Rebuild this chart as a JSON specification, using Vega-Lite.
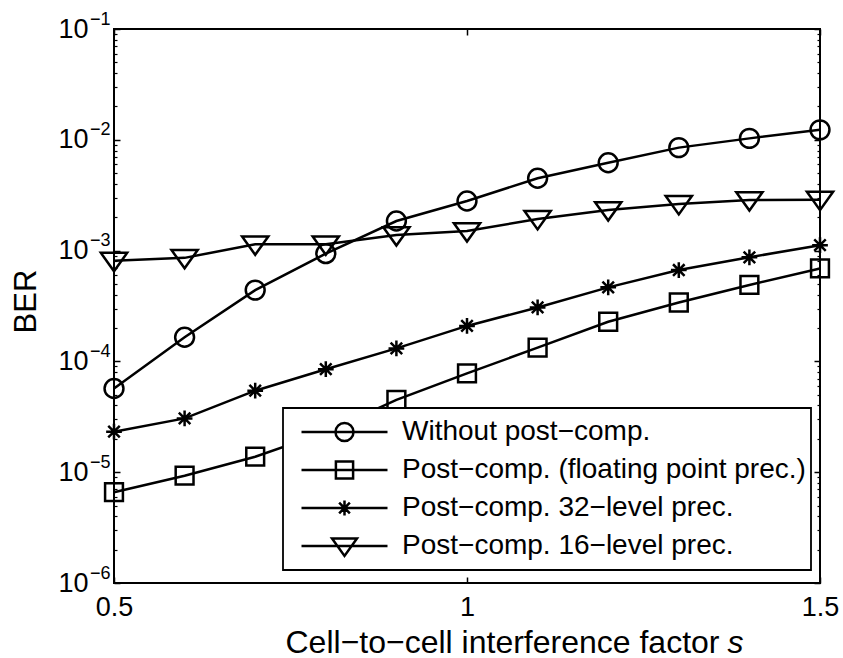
{
  "$schema": "https://vega.github.io/schema/vega-lite/v6.json",
  "width": 706,
  "height": 554,
  "autosize": "none",
  "padding": {"left": 114, "top": 29, "right": 23, "bottom": 75},
  "background": "white",
  "config": {
    "view": {"stroke": "black", "strokeWidth": 2},
    "font": "Liberation Sans",
    "legend": {"strokeWidth": 1.8},
    "axis": {"grid": false, "domain": false, "labelColor": "black", "titleColor": "black", "tickColor": "black", "labelFont": "Liberation Sans", "titleFont": "Liberation Sans", "titleFontWeight": "normal"}
  },
  "data": {
    "values": [
      {"s": 0.5, "ber": 5.7e-5, "series": "Without post−comp."},
      {"s": 0.6, "ber": 1.65e-4, "series": "Without post−comp."},
      {"s": 0.7, "ber": 4.4e-4, "series": "Without post−comp."},
      {"s": 0.8, "ber": 9.4e-4, "series": "Without post−comp."},
      {"s": 0.9, "ber": 1.85e-3, "series": "Without post−comp."},
      {"s": 1.0, "ber": 2.8e-3, "series": "Without post−comp."},
      {"s": 1.1, "ber": 4.5e-3, "series": "Without post−comp."},
      {"s": 1.2, "ber": 6.2e-3, "series": "Without post−comp."},
      {"s": 1.3, "ber": 8.5e-3, "series": "Without post−comp."},
      {"s": 1.4, "ber": 1.03e-2, "series": "Without post−comp."},
      {"s": 1.5, "ber": 1.23e-2, "series": "Without post−comp."},
      {"s": 0.5, "ber": 6.6e-6, "series": "Post−comp. (floating point prec.)"},
      {"s": 0.6, "ber": 9.3e-6, "series": "Post−comp. (floating point prec.)"},
      {"s": 0.7, "ber": 1.38e-5, "series": "Post−comp. (floating point prec.)"},
      {"s": 0.8, "ber": 2.3e-5, "series": "Post−comp. (floating point prec.)"},
      {"s": 0.9, "ber": 4.5e-5, "series": "Post−comp. (floating point prec.)"},
      {"s": 1.0, "ber": 7.8e-5, "series": "Post−comp. (floating point prec.)"},
      {"s": 1.1, "ber": 1.33e-4, "series": "Post−comp. (floating point prec.)"},
      {"s": 1.2, "ber": 2.28e-4, "series": "Post−comp. (floating point prec.)"},
      {"s": 1.3, "ber": 3.4e-4, "series": "Post−comp. (floating point prec.)"},
      {"s": 1.4, "ber": 4.9e-4, "series": "Post−comp. (floating point prec.)"},
      {"s": 1.5, "ber": 6.9e-4, "series": "Post−comp. (floating point prec.)"},
      {"s": 0.5, "ber": 2.32e-5, "series": "Post−comp. 32−level prec."},
      {"s": 0.6, "ber": 3.06e-5, "series": "Post−comp. 32−level prec."},
      {"s": 0.7, "ber": 5.44e-5, "series": "Post−comp. 32−level prec."},
      {"s": 0.8, "ber": 8.5e-5, "series": "Post−comp. 32−level prec."},
      {"s": 0.9, "ber": 1.31e-4, "series": "Post−comp. 32−level prec."},
      {"s": 1.0, "ber": 2.09e-4, "series": "Post−comp. 32−level prec."},
      {"s": 1.1, "ber": 3.07e-4, "series": "Post−comp. 32−level prec."},
      {"s": 1.2, "ber": 4.66e-4, "series": "Post−comp. 32−level prec."},
      {"s": 1.3, "ber": 6.68e-4, "series": "Post−comp. 32−level prec."},
      {"s": 1.4, "ber": 8.7e-4, "series": "Post−comp. 32−level prec."},
      {"s": 1.5, "ber": 1.12e-3, "series": "Post−comp. 32−level prec."},
      {"s": 0.5, "ber": 8.1e-4, "series": "Post−comp. 16−level prec."},
      {"s": 0.6, "ber": 8.6e-4, "series": "Post−comp. 16−level prec."},
      {"s": 0.7, "ber": 1.14e-3, "series": "Post−comp. 16−level prec."},
      {"s": 0.8, "ber": 1.14e-3, "series": "Post−comp. 16−level prec."},
      {"s": 0.9, "ber": 1.38e-3, "series": "Post−comp. 16−level prec."},
      {"s": 1.0, "ber": 1.5e-3, "series": "Post−comp. 16−level prec."},
      {"s": 1.1, "ber": 1.93e-3, "series": "Post−comp. 16−level prec."},
      {"s": 1.2, "ber": 2.32e-3, "series": "Post−comp. 16−level prec."},
      {"s": 1.3, "ber": 2.64e-3, "series": "Post−comp. 16−level prec."},
      {"s": 1.4, "ber": 2.86e-3, "series": "Post−comp. 16−level prec."},
      {"s": 1.5, "ber": 2.88e-3, "series": "Post−comp. 16−level prec."}
    ]
  },
  "resolve": {"scale": {"shape": "independent"}, "axis": {"x": "independent", "y": "independent"}},
  "layer": [
    {
      "mark": {"type": "line", "color": "black", "strokeWidth": 2.5},
      "encoding": {
        "x": {"field": "s", "type": "quantitative", "scale": {"domain": [0.5, 1.5], "nice": false, "zero": false},
          "axis": {"values": [0.5, 1, 1.5], "format": "~g", "ticks": false, "labelFontSize": 27, "labelPadding": 11, "labelFlush": false, "labelOverlap": false,
            "title": "Cell−to−cell interference factor", "titleFontSize": 32, "titleX": 171, "titleY": 69, "titleAlign": "left", "titleBaseline": "alphabetic"}},
        "y": {"field": "ber", "type": "quantitative", "scale": {"type": "log", "domain": [1e-6, 0.1], "nice": false},
          "axis": {"values": [1e-6, 1e-5, 1e-4, 1e-3, 1e-2, 1e-1], "labelExpr": "'10'", "ticks": false, "labelFontSize": 27, "labelPadding": 26, "labelOverlap": false, "labelFlush": false,
            "title": "BER", "titleFontSize": 31, "titleX": -88, "titleY": 272, "titleAngle": -90, "titleAlign": "center", "titleBaseline": "middle"}},
        "detail": {"field": "series"}
      }
    },
    {
      "mark": {"type": "point", "filled": false, "stroke": "black", "strokeWidth": 2.5, "size": 440, "opacity": 1},
      "encoding": {
        "x": {"field": "s", "type": "quantitative",
          "axis": {"orient": "bottom", "values": [0.5, 1, 1.5], "labels": false, "offset": -6, "tickSize": 6, "tickWidth": 1.5, "title": null}},
        "y": {"field": "ber", "type": "quantitative",
          "axis": {"orient": "left", "values": [1e-6, 1e-5, 1e-4, 1e-3, 1e-2, 1e-1], "labelExpr": "'−' + round(-log(datum.value)/LN10)", "ticks": false, "labelFontSize": 18, "labelPadding": 4, "labelOffset": -10, "labelOverlap": false, "labelFlush": false, "title": null}},
        "shape": {"field": "series", "type": "nominal", "legend": null,
          "scale": {"domain": ["Without post−comp.", "Post−comp. (floating point prec.)", "Post−comp. 32−level prec.", "Post−comp. 16−level prec."],
            "range": [
              "M 0.9 0 A 0.9 0.9 0 1 1 -0.9 0 A 0.9 0.9 0 1 1 0.9 0 Z",
              "M -0.85 -0.85 L 0.85 -0.85 L 0.85 0.85 L -0.85 0.85 Z",
              "M 0 -0.75 L 0 0.75 M -0.75 0 L 0.75 0 M -0.55 -0.55 L 0.55 0.55 M -0.55 0.55 L 0.55 -0.55",
              "M -1.25 -0.75 L 1.25 -0.75 L 0 1 Z"
            ]}}
      }
    },
    {
      "mark": {"type": "point", "filled": false, "stroke": "black", "strokeWidth": 2.5, "size": 7396, "opacity": 0},
      "encoding": {
        "x": {"field": "s", "type": "quantitative",
          "axis": {"orient": "top", "values": [0.5, 1, 1.5], "labels": false, "offset": -6, "tickSize": 6, "tickWidth": 1.5, "title": null}},
        "y": {"field": "ber", "type": "quantitative",
          "axis": {"orient": "left", "values": [1e-6, 1e-5, 1e-4, 1e-3, 1e-2, 1e-1], "labels": false, "offset": -6, "tickSize": 6, "tickWidth": 1.5, "title": null}},
        "shape": {"field": "series", "type": "nominal",
          "scale": {"domain": ["Without post−comp.", "Post−comp. (floating point prec.)", "Post−comp. 32−level prec.", "Post−comp. 16−level prec."],
            "range": [
              "M -1 0 L 1 0 M 0.21 0 A 0.21 0.21 0 1 1 -0.21 0 A 0.21 0.21 0 1 1 0.21 0 Z",
              "M -1 0 L 1 0 M -0.2 -0.2 L 0.2 -0.2 L 0.2 0.2 L -0.2 0.2 Z",
              "M -1 0 L 1 0 M 0 -0.175 L 0 0.175 M -0.125 -0.125 L 0.125 0.125 M -0.125 0.125 L 0.125 -0.125",
              "M -1 0 L 1 0 M -0.29 -0.175 L 0.29 -0.175 L 0 0.23 Z"
            ]},
          "legend": {"title": null, "orient": "none", "legendX": 169, "legendY": 379, "strokeColor": "black", "fillColor": "white", "padding": 5, "cornerRadius": 0,
            "symbolSize": 7396, "symbolOpacity": 1, "symbolStrokeColor": "black", "symbolStrokeWidth": 2.5, "symbolFillColor": "transparent", "symbolOffset": 12,
            "clipHeight": 38, "rowPadding": 0, "labelOffset": 13, "labelFontSize": 28, "labelFont": "Liberation Sans", "labelColor": "black", "labelLimit": 700,
            "symbolLimit": 0}}
      }
    },
    {
      "mark": {"type": "point", "opacity": 0},
      "encoding": {
        "x": {"field": "s", "type": "quantitative",
          "axis": {"orient": "bottom", "labels": false, "ticks": false, "values": [0.5], "title": "s", "titleFontStyle": "italic", "titleFontSize": 32, "titleX": 613, "titleY": 69, "titleAlign": "left", "titleBaseline": "alphabetic"}},
        "y": {"field": "ber", "type": "quantitative",
          "axis": {"orient": "left", "labels": false, "offset": -3, "tickSize": 3, "tickWidth": 1.2, "title": null,
            "values": [2e-6,3e-6,4e-6,5e-6,6e-6,7e-6,8e-6,9e-6,2e-5,3e-5,4e-5,5e-5,6e-5,7e-5,8e-5,9e-5,2e-4,3e-4,4e-4,5e-4,6e-4,7e-4,8e-4,9e-4,2e-3,3e-3,4e-3,5e-3,6e-3,7e-3,8e-3,9e-3,2e-2,3e-2,4e-2,5e-2,6e-2,7e-2,8e-2,9e-2]}}
      }
    },
    {
      "mark": {"type": "point", "opacity": 0},
      "encoding": {
        "x": {"field": "s", "type": "quantitative", "axis": null},
        "y": {"field": "ber", "type": "quantitative",
          "axis": {"orient": "right", "values": [1e-6, 1e-5, 1e-4, 1e-3, 1e-2, 1e-1], "labels": false, "offset": -6, "tickSize": 6, "tickWidth": 1.5, "title": null}}
      }
    },
    {
      "mark": {"type": "point", "opacity": 0},
      "encoding": {
        "x": {"field": "s", "type": "quantitative", "axis": null},
        "y": {"field": "ber", "type": "quantitative",
          "axis": {"orient": "right", "labels": false, "offset": -3, "tickSize": 3, "tickWidth": 1.2, "title": null,
            "values": [2e-6,3e-6,4e-6,5e-6,6e-6,7e-6,8e-6,9e-6,2e-5,3e-5,4e-5,5e-5,6e-5,7e-5,8e-5,9e-5,2e-4,3e-4,4e-4,5e-4,6e-4,7e-4,8e-4,9e-4,2e-3,3e-3,4e-3,5e-3,6e-3,7e-3,8e-3,9e-3,2e-2,3e-2,4e-2,5e-2,6e-2,7e-2,8e-2,9e-2]}}
      }
    }
  ]
}
